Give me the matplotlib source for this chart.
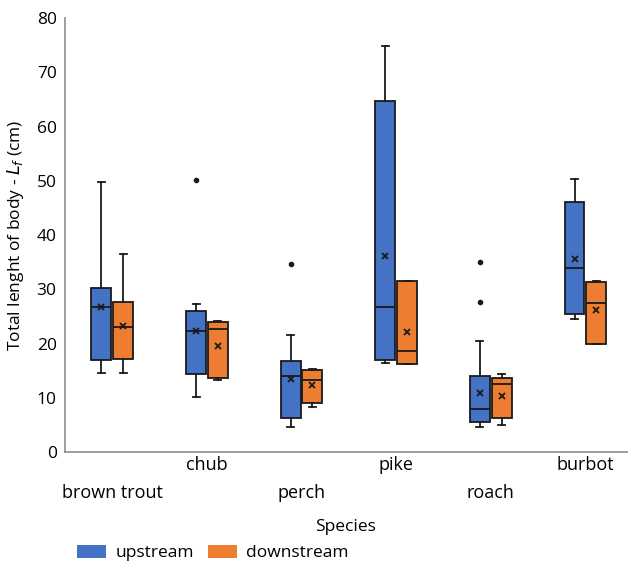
import matplotlib
matplotlib.use("Agg")
import matplotlib.pyplot as plt
from matplotlib.patches import Patch
import matplotlib.transforms as mtransforms

plt.rcParams['font.family'] = ['Open Sans', 'DejaVu Sans']

species = ["brown trout", "chub", "perch", "pike", "roach", "burbot"]

# upstream stats
up_min = [14.5, 10.2, 4.7, 16.4, 4.6, 24.6]
up_q1 = [17.0, 14.3, 6.3, 16.9, 5.6, 25.5]
up_med = [26.8, 22.3, 14.1, 26.7, 7.9, 33.9]
up_q3 = [30.3, 26.0, 16.8, 64.8, 14.1, 46.1]
up_max = [49.7, 27.2, 21.5, 74.8, 20.4, 50.3]
up_mean = [26.8, 22.3, 13.5, 36.2, 10.9, 35.5]
up_out = [[], [50.2], [34.7], [], [35.0, 27.7], []]

# downstream stats
dn_min = [14.5, 13.2, 8.3, 16.3, 5.0, 19.9]
dn_q1 = [17.1, 13.7, 9.1, 16.3, 6.2, 19.9]
dn_med = [23.0, 22.6, 13.2, 18.7, 12.5, 27.4]
dn_q3 = [27.7, 24.0, 15.1, 31.5, 13.6, 31.3]
dn_max = [36.5, 24.2, 15.3, 31.5, 14.4, 31.5]
dn_mean = [23.3, 19.5, 12.3, 22.2, 10.4, 26.2]
dn_out = [[], [], [], [], [], []]

series = ["upstream", "downstream"]
colors = ["#4472C4", "#ED7D31"]

fig = plt.figure(figsize=(6.28, 5.66), dpi=100)
ax = fig.add_axes([0.1035, 0.2014, 0.8965, 0.7666])

def stats(mn, q1, med, q3, mx, mean, out):
    return [dict(whislo=a, q1=b, med=c, q3=d, whishi=e, mean=f, fliers=g)
            for a, b, c, d, e, f, g in zip(mn, q1, med, q3, mx, mean, out)]

groups = [stats(up_min, up_q1, up_med, up_q3, up_max, up_mean, up_out),
          stats(dn_min, dn_q1, dn_med, dn_q3, dn_max, dn_mean, dn_out)]
offsets = [-0.115, 0.115]
for st, off, col in zip(groups, offsets, colors):
    pos = [i + off for i in range(len(species))]
    ax.bxp(st, positions=pos, widths=0.21, patch_artist=True, showmeans=True,
           boxprops=dict(facecolor=col, edgecolor="#1a1a1a", linewidth=1.3),
           medianprops=dict(color="#1a1a1a", linewidth=1.3),
           whiskerprops=dict(color="#1a1a1a", linewidth=1.3),
           capprops=dict(color="#1a1a1a", linewidth=1.3),
           capwidths=0.075,
           meanprops=dict(marker="x", markeredgecolor="#1a1a1a", markersize=5, markeredgewidth=1.3),
           flierprops=dict(marker="o", markerfacecolor="#1a1a1a", markeredgecolor="#1a1a1a", markersize=3))

ax.set_xlim(-0.5, 5.45)
ax.set_ylim(0, 80)
ax.set_yticks(range(0, 81, 10))
ax.tick_params(axis="y", length=0, labelsize=12.5, pad=6)
ax.set_xticks([])
for s in ["top", "right"]:
    ax.spines[s].set_visible(False)
for s in ["left", "bottom"]:
    ax.spines[s].set_color("#8c8c8c")
    ax.spines[s].set_linewidth(1.2)

trans = mtransforms.blended_transform_factory(ax.transData, ax.transAxes)
for i, name in enumerate(species):
    dy = -41 if i % 2 == 0 else -13
    off = mtransforms.offset_copy(trans, fig=fig, y=dy, units="dots")
    ax.text(i, 0, name, transform=off, ha="center", va="center", fontsize=13)

ax.set_ylabel("Total lenght of body - $L_f$ (cm)", fontsize=12.5, labelpad=8)
fig.text(345 / 628, 1 - 527 / 566, "Species", ha="center", va="center", fontsize=12.5)

handles = [Patch(facecolor=c, edgecolor="none") for c in colors]
fig.legend(handles, series, loc="center left", bbox_to_anchor=(70 / 628, 1 - 553 / 566),
           ncol=2, frameon=False, fontsize=12.5, handlelength=1.7, handleheight=0.8,
           handletextpad=0.5, columnspacing=0.8, borderaxespad=0)

fig.savefig("out.png", dpi=100)
